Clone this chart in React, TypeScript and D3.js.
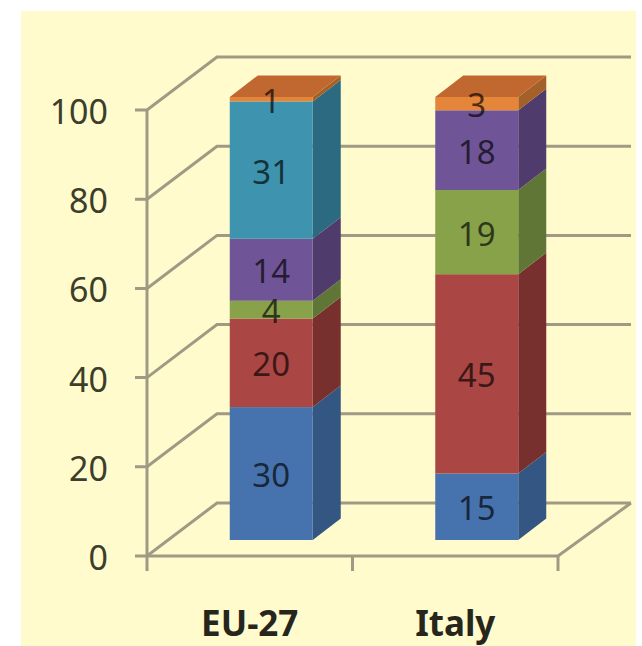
import * as d3 from "d3";

// Share of each category, stacked bottom to top
const categories = ["EU-27", "Italy"];
const seriesKeys = ["s1", "s2", "s3", "s4", "s5", "s6"];
const series1 = [30, 15];
const series2 = [20, 45];
const series3 = [4, 19];
const series4 = [14, 18];
const series5 = [31, 0];
const series6 = [1, 3];
const seriesValues = [series1, series2, series3, series4, series5, series6];
const axisTicks = [0, 20, 40, 60, 80, 100];

const frontColors = ["#4673ad", "#aa4644", "#88a24a", "#6f5597", "#3e93ae", "#e4853a"];
const sideColors = ["#335682", "#78302f", "#5f7636", "#4f3c6d", "#2b6a80", "#a5602a"];
const topColor = "#c0682f";
const gridColor = "#a09a84";
const textColor = "#3d3d2b";
const labelFont = "'Noto Sans', sans-serif";

const rows = categories.map((c, i) => {
  const row: Record<string, number | string> = { category: c };
  seriesKeys.forEach((k, s) => (row[k] = seriesValues[s][i]));
  return row;
});
const stacked = d3.stack<any>().keys(seriesKeys)(rows);

// Wall depth and bar depth of the oblique projection
const wallDx = 70;
const wallDy = 53;
const barDx = 28;
const barDy = 21.5;

const axisY = d3.scaleLinear().domain([0, 100]).range([556, 110]);
const barY = d3.scaleLinear().domain([0, 100]).range([540, 97]);
const catX = d3.scaleBand().domain(categories).range([147, 558]);
const barWidth = 83;
// Bars stand mid-way through the floor depth, so they sit right of their tick band
const barShift = 21.5;
const backRight = 631;

const poly = d3.line();

export default function App() {
  const floorFront = axisY(0);
  return (
    <svg
      width={642}
      height={646}
      style={{ position: "absolute", left: 0, top: 0, background: "#fff" }}
    >
      <rect x={21} y={11} width={615} height={635} fill="#fffbcc" />

      <g stroke={gridColor} strokeWidth={3} fill="none">
        {axisTicks.map((t) => {
          const y = axisY(t);
          return (
            <path
              key={t}
              d={poly([
                [135, y],
                [catX.range()[0], y],
                [catX.range()[0] + wallDx, y - wallDy],
                [backRight, y - wallDy],
              ])!}
            />
          );
        })}
        <line x1={147} x2={147} y1={axisY(100)} y2={571} />
        <path
          d={poly([
            [147, floorFront],
            [558, floorFront],
            [backRight, floorFront - wallDy],
          ])!}
        />
        {[catX("Italy")!, 558].map((x) => (
          <line key={x} x1={x} x2={x} y1={floorFront} y2={571} />
        ))}
      </g>

      {axisTicks.map((t) => (
        <text
          key={t}
          x={108}
          y={axisY(t) + 14}
          textAnchor="end"
          fontFamily={labelFont}
          fontSize={34}
          fill={textColor}
        >
          {t}
        </text>
      ))}

      {categories.map((c, i) => {
        const bandMid = catX(c)! + catX.bandwidth() / 2;
        const x0 = bandMid - barWidth / 2 + barShift;
        const x1 = x0 + barWidth;
        const top = barY(100);
        return (
          <g key={c}>
            {stacked.map((layer, s) => {
              const [a, b] = layer[i];
              if (a === b) return null;
              const yA = barY(a);
              const yB = barY(b);
              return (
                <g key={layer.key}>
                  <path
                    fill={sideColors[s]}
                    d={poly([
                      [x1, yA],
                      [x1 + barDx, yA - barDy],
                      [x1 + barDx, yB - barDy],
                      [x1, yB],
                    ])! + "Z"}
                  />
                  <rect x={x0} y={yB} width={barWidth} height={yA - yB} fill={frontColors[s]} />
                </g>
              );
            })}
            <path
              fill={topColor}
              d={poly([
                [x0, top],
                [x0 + barDx, top - barDy],
                [x1 + barDx, top - barDy],
                [x1, top],
              ])! + "Z"}
            />
            {stacked.map((layer, s) => {
              const [a, b] = layer[i];
              if (a === b) return null;
              return (
                <text
                  key={layer.key}
                  x={(x0 + x1) / 2}
                  y={barY((a + b) / 2) + 13.5}
                  textAnchor="middle"
                  fontFamily={labelFont}
                  fontSize={33}
                  fill="#000"
                  fillOpacity={0.68}
                >
                  {seriesValues[s][i]}
                </text>
              );
            })}
            <text
              x={bandMid}
              y={636}
              fontFamily={labelFont}
              fontSize={35}
              fontWeight={700}
              textAnchor="middle"
              fill="#26261c"
            >
              {c}
            </text>
          </g>
        );
      })}
    </svg>
  );
}
